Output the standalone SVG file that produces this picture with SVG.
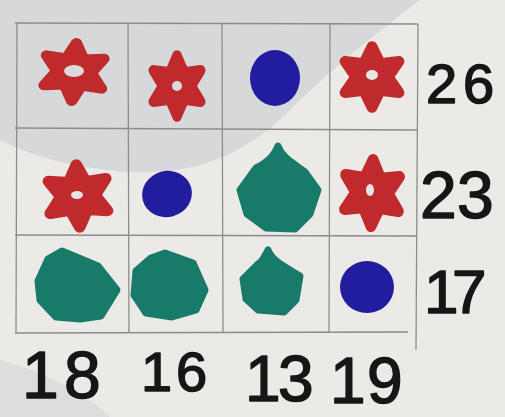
<svg xmlns="http://www.w3.org/2000/svg" width="505" height="417" viewBox="0 0 505 417">
<style>
.grid{stroke:#8c8c8c;stroke-width:1.3;fill:none}
.red{fill:#c02a2c;stroke:#c02a2c;stroke-width:10;stroke-linejoin:round}
.hole{fill:#e6e5e3}
.hole2{fill:#d9dadc}
.blue{fill:#221c9e}
.green{fill:#187a69;stroke:#187a69;stroke-width:7;stroke-linejoin:round}
.num{font-family:"Liberation Sans",Arial,sans-serif;fill:#161616;stroke:#161616;stroke-width:1.5;stroke-linejoin:round;stroke-linecap:round}
</style>
<defs>
<path id="star" d="M0,-29 L7.5,-13 L25,-15 L15,0 L25,15 L7.5,13 L0,29 L-7.5,13 L-25,15 L-15,0 L-25,-15 L-7.5,-13 Z"/>
</defs>
<rect width="505" height="417" fill="#ebeae7"/>
<path d="M0,0 L0,140 C30,155 70,168 130,172 C200,176 250,150 290,110 C330,70 380,30 420,0 Z" fill="#d7d8da"/>
<path d="M0,360 C40,370 90,395 110,417 L0,417 Z" fill="#dedddb"/>
<g id="grid">
<line class="grid" x1="15" y1="23" x2="418" y2="24"/>
<line class="grid" x1="15" y1="128" x2="417" y2="130"/>
<line class="grid" x1="15" y1="235" x2="416" y2="236"/>
<line class="grid" x1="15" y1="333" x2="408" y2="332"/>
<line class="grid" x1="17" y1="23" x2="16" y2="333"/>
<line class="grid" x1="128" y1="23" x2="129" y2="333"/>
<line class="grid" x1="222" y1="23" x2="223" y2="333"/>
<line class="grid" x1="330" y1="24" x2="329" y2="333"/>
<line class="grid" x1="418" y1="24" x2="416" y2="350"/>
</g>
<g id="r1c1"><use href="#star" class="red" transform="translate(74,72) scale(1.15,1.0) rotate(4)"/><ellipse class="hole2" cx="74" cy="71" rx="10" ry="6"/></g>
<g id="r1c2"><use href="#star" class="red" transform="translate(177,86) scale(0.95,1.05)"/><ellipse class="hole2" cx="177" cy="86" rx="5" ry="5"/></g>
<g id="r1c3"><ellipse class="blue" cx="275" cy="78" rx="25" ry="28"/></g>
<g id="r1c4"><use href="#star" class="red" transform="translate(372,77) scale(1.08,1.05)"/><ellipse class="hole" cx="372" cy="75" rx="6" ry="5"/></g>
<g id="r2c1"><use href="#star" class="red" transform="translate(78,196) scale(1.15,1.08) rotate(-3)"/><ellipse class="hole" cx="77" cy="195" rx="6" ry="4"/></g>
<g id="r2c2"><ellipse class="blue" cx="167" cy="194" rx="25" ry="23" transform="rotate(-15 167 194)"/></g>
<g id="r2c3"><path class="green" d="M278,146 C282,158 295,164 305,172 L318,190 L310,214 L295,229 L266,228 L247,214 L240,190 L256,168 C268,162 274,156 278,146 Z"/></g>
<g id="r2c4"><use href="#star" class="red" transform="translate(372,193) scale(1.08,1.15) rotate(2)"/><ellipse class="hole" cx="370" cy="190" rx="4" ry="6"/></g>
<g id="r3c1"><path class="green" d="M62,251 L98,266 L117,290 L101,316 L80,319 L56,317 L40,300 L38,281 L48,259 Z"/></g>
<g id="r3c2"><path class="green" d="M165,253 L193,263 L205,290 L196,310 L172,317 L146,313 L134,295 L136,271 L151,258 Z"/></g>
<g id="r3c3"><path class="green" d="M268,250 C272,260 280,264 300,276 L296,300 L284,312 L258,310 L246,299 L243,279 L258,264 C262,262 265,256 268,250 Z"/></g>
<g id="r3c4"><ellipse class="blue" cx="367" cy="287" rx="27" ry="26"/></g>
<g id="labels">
<text class="num" x="426 463" y="103" font-size="56">26</text>
<text class="num" x="420 457" y="218" font-size="66">23</text>
<text class="num" x="424 452" y="313" font-size="62">17</text>
<text class="num" x="22 64" y="398" font-size="66">18</text>
<text class="num" x="141 176" y="391" font-size="56">16</text>
<text class="num" x="245 278" y="401" font-size="64">13</text>
<text class="num" x="330 367" y="403" font-size="64">19</text>
</g>
</svg>
